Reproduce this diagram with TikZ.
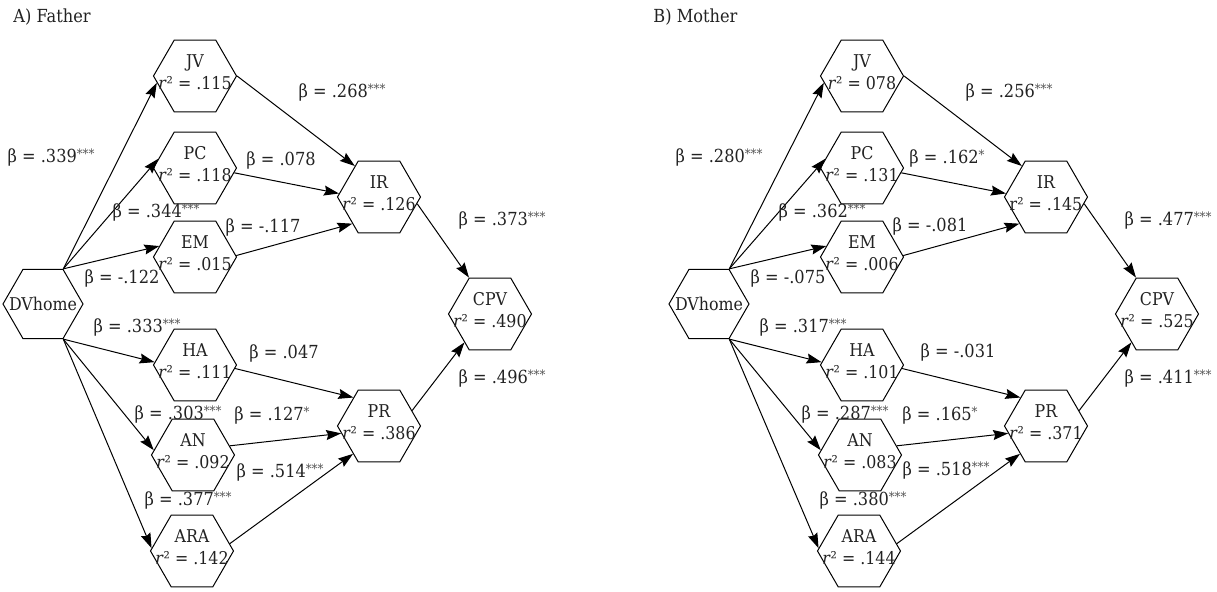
\documentclass[tikz,border=0pt]{standalone}
\usepackage{fontspec}
\setmainfont{DejaVu Serif}[FakeStretch=0.9]
\usetikzlibrary{shapes.geometric,arrows.meta}
\definecolor{txt}{HTML}{222222}
\definecolor{ast}{HTML}{555555}
\newcommand\bt{β}
\newcommand\st[1]{{\fontsize{6.5}{6.5}\selectfont\color{ast}\raisebox{1.8pt}{#1}}}
\newcommand\rr{\textit{r}²}
\tikzset{
  hex/.style={draw=black, line width=0.5pt, regular polygon, regular polygon sides=6, minimum size=41.5pt, inner sep=0pt},
  dvhex/.style={hex, minimum size=40pt},
  hexlbl/.style={font=\fontsize{8.8}{11}\selectfont, text=txt, align=center, inner sep=0pt, yshift=2pt},
  lbl/.style={font=\fontsize{9}{11}\selectfont, text=txt, inner sep=0pt},
  arr/.style={line width=0.5pt, -{Stealth[length=7.5pt,width=5pt,inset=1pt]}}
}
\newcommand\hexnode[4]{\node[hex, label={[hexlbl]center:{#3\\#4}}] (#1) at (#2) {};}
\newcommand\paneledges[1]{%
  \draw[arr] (#1DV.60) -- (#1JV.190);
  \draw[arr] (#1DV.60) -- (#1PC.166);
  \draw[arr] (#1DV.60) -- (#1EM.163);
  \draw[arr] (#1DV.-60) -- (#1HA.176);
  \draw[arr] (#1DV.-60) -- (#1AN.173);
  \draw[arr] (#1DV.-60) -- (#1ARA.176);
  \draw[arr] (#1JV.0) -- (#1IR.128);
  \draw[arr] (#1PC.-7) -- (#1IR.175);
  \draw[arr] (#1EM.2) -- (#1IR.225);
  \draw[arr] (#1IR.-10) -- (#1CPV.120);
  \draw[arr] (#1PR.25) -- (#1CPV.228);
  \draw[arr] (#1HA.-5) -- (#1PR.132);
  \draw[arr] (#1AN.14) -- (#1PR.191);
  \draw[arr] (#1ARA.11) -- (#1PR.227);
}
\begin{document}
\begin{tikzpicture}[x=0.5pt,y=-0.5pt]
\useasboundingbox (0,0) rectangle (1217,592);
% ---------- Panel A ----------
\node[lbl, anchor=west] (tA) at (13,17) {A) Father};
\hexnode{aJV}{195,76}{JV}{\rr{} = .115}
\hexnode{aPC}{195,168}{PC}{\rr{} = .118}
\hexnode{aEM}{195,257}{EM}{\rr{} = .015}
\node[dvhex, label={[hexlbl, yshift=-2pt]center:DVhome}] (aDV) at (43,304) {};
\hexnode{aHA}{195,365}{HA}{\rr{} = .111}
\hexnode{aAN}{193,455}{AN}{\rr{} = .092}
\hexnode{aARA}{192,551}{ARA}{\rr{} = .142}
\hexnode{aIR}{379,197}{IR}{\rr{} = .126}
\hexnode{aCPV}{490,314}{CPV}{\rr{} = .490}
\hexnode{aPR}{379,426}{PR}{\rr{} = .386}
\paneledges{a}
\node[lbl] (la1) at (51,157) {\bt{} = .339\st{***}};
\node[lbl] (la2) at (156,212) {\bt{} = .344\st{***}};
\node[lbl] (la3) at (122,278) {\bt{} = -.122};
\node[lbl] (la4) at (137,327) {\bt{} = .333\st{***}};
\node[lbl] (la5) at (178,414) {\bt{} = .303\st{***}};
\node[lbl] (la6) at (188,500) {\bt{} = .377\st{***}};
\node[lbl] (la7) at (342,92) {\bt{} = .268\st{***}};
\node[lbl] (la8) at (281,160) {\bt{} = .078};
\node[lbl] (la9) at (263,227) {\bt{} = -.117};
\node[lbl] (la10) at (284,353) {\bt{} = .047};
\node[lbl] (la11) at (272,415) {\bt{} = .127\st{*}};
\node[lbl] (la12) at (280,472) {\bt{} = .514\st{***}};
\node[lbl] (la13) at (502,220) {\bt{} = .373\st{***}};
\node[lbl] (la14) at (502,378) {\bt{} = .496\st{***}};
% ---------- Panel B ----------
\node[lbl, anchor=west] (tB) at (653,17) {B) Mother};
\hexnode{bJV}{862,76}{JV}{\rr{} = 078}
\hexnode{bPC}{862,168}{PC}{\rr{} = .131}
\hexnode{bEM}{862,257}{EM}{\rr{} = .006}
\node[dvhex, label={[hexlbl, yshift=-2pt]center:DVhome}] (bDV) at (709,304) {};
\hexnode{bHA}{862,365}{HA}{\rr{} = .101}
\hexnode{bAN}{860,455}{AN}{\rr{} = .083}
\hexnode{bARA}{859,551}{ARA}{\rr{} = .144}
\hexnode{bIR}{1046,197}{IR}{r² = .145}
\hexnode{bCPV}{1157,314}{CPV}{\rr{} = .525}
\hexnode{bPR}{1046,426}{PR}{\rr{} = .371}
\paneledges{b}
\node[lbl] (lb1) at (719,157) {\bt{} = .280\st{***}};
\node[lbl] (lb2) at (822,212) {\bt{} = .362\st{***}};
\node[lbl] (lb3) at (788,278) {\bt{} = -.075};
\node[lbl] (lb4) at (803,327) {\bt{} = .317\st{***}};
\node[lbl] (lb5) at (845,414) {\bt{} = .287\st{***}};
\node[lbl] (lb6) at (863,500) {\bt{} = .380\st{***}};
\node[lbl] (lb7) at (1009,92) {\bt{} = .256\st{***}};
\node[lbl] (lb8) at (947,158) {\bt{} = .162\st{*}};
\node[lbl] (lb9) at (930,226) {\bt{} = -.081};
\node[lbl] (lb10) at (958,352) {\bt{} = -.031};
\node[lbl] (lb11) at (940,415) {\bt{} = .165\st{*}};
\node[lbl] (lb12) at (946,470) {\bt{} = .518\st{***}};
\node[lbl] (lb13) at (1168,220) {\bt{} = .477\st{***}};
\node[lbl] (lb14) at (1168,378) {\bt{} = .411\st{***}};
\end{tikzpicture}
\end{document}
